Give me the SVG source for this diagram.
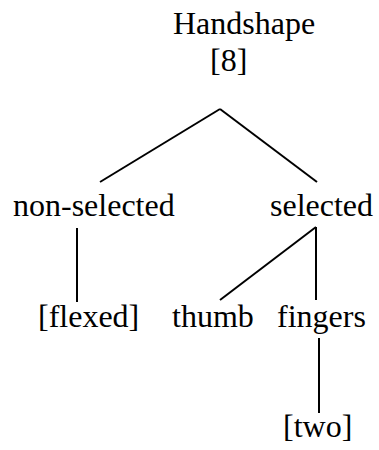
<svg xmlns="http://www.w3.org/2000/svg" width="379" height="450" viewBox="0 0 379 450">
<style>
text{font-family:'Liberation Serif',Tinos,'Times New Roman',Times,'DejaVu Serif','Noto Serif',serif;font-size:32px;fill:#000}
.e{stroke:#000;stroke-width:2;fill:none}
</style>
<rect width="379" height="450" fill="#fff"/>
<g id="connectors">
<line class="e" x1="220" y1="109" x2="100" y2="182"/>
<line class="e" x1="220" y1="109" x2="317" y2="182"/>
<line class="e" x1="77" y1="228" x2="77" y2="302"/>
<line class="e" x1="316" y1="227" x2="220" y2="300"/>
<line class="e" x1="316" y1="227" x2="316" y2="300"/>
<line class="e" x1="319" y1="338" x2="319" y2="413"/>
</g>
<g id="handshape"><text x="173" y="34" font-family="Liberation Serif, serif">Handshape</text><text x="210" y="71" font-family="Liberation Serif, serif">[8]</text></g>
<g id="non-selected"><text x="13" y="216">non-selected</text></g>
<g id="selected"><text x="270" y="216">selected</text></g>
<g id="flexed"><text x="38" y="327">[flexed]</text></g>
<g id="thumb"><text x="172" y="327">thumb</text></g>
<g id="fingers"><text x="277" y="327">fingers</text></g>
<g id="two"><text x="283" y="437">[two]</text></g>
</svg>
